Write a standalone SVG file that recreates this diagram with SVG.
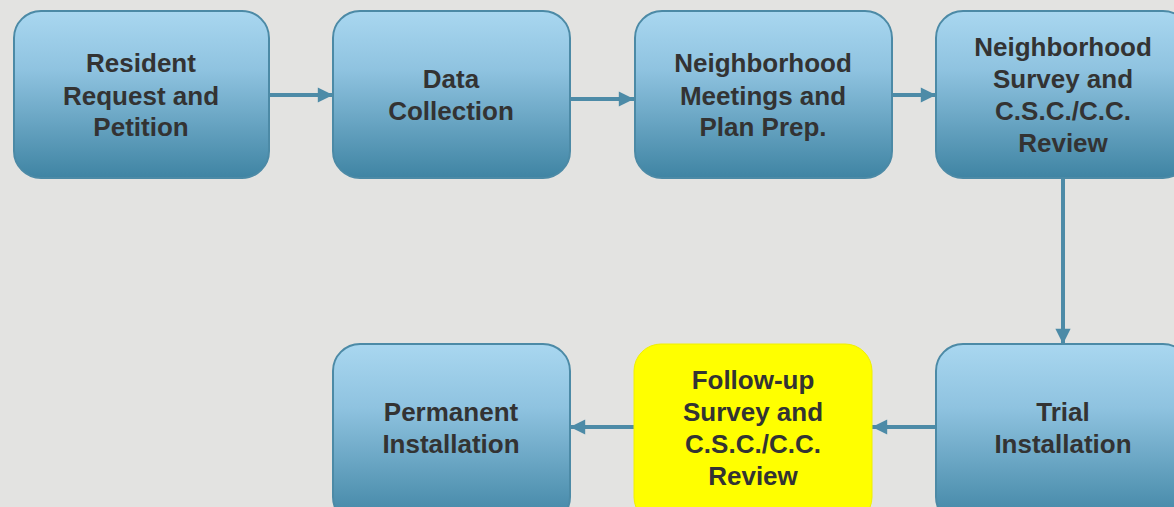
<svg xmlns="http://www.w3.org/2000/svg" width="1174" height="507" viewBox="0 0 1174 507">
<defs>
<linearGradient id="blue" x1="0" y1="0" x2="0" y2="1">
<stop offset="0" stop-color="#a9d7f0"/>
<stop offset="0.35" stop-color="#8fc3e0"/>
<stop offset="1" stop-color="#3f84a3"/>
</linearGradient>
<marker id="ah" viewBox="0 0 10 10" refX="10" refY="5" markerWidth="4" markerHeight="3.8" markerUnits="strokeWidth" orient="auto">
<path d="M0,0 L10,5 L0,10 Z" fill="#4d8ba7"/>
</marker>
<style>
.box{fill:url(#blue);stroke:#4c8aa6;stroke-width:2}
.hl{fill:#ffff00;stroke:#f0f000;stroke-width:1}
.t{font-family:"Liberation Sans",Arial,sans-serif;font-weight:bold;font-size:26px;fill:#333333;text-anchor:middle}
.c{stroke:#4d8ba7;stroke-width:4;fill:none;marker-end:url(#ah)}
</style>
</defs>
<rect width="1174" height="507" fill="#e3e3e1"/>
<g id="connectors">
<line class="c" x1="269" y1="95" x2="333" y2="95"/>
<line class="c" x1="570" y1="99" x2="634" y2="99"/>
<line class="c" x1="892" y1="95" x2="936" y2="95"/>
<line class="c" x1="1063" y1="178" x2="1063" y2="344"/>
<line class="c" x1="936" y1="427" x2="872" y2="427"/>
<line class="c" x1="634" y1="427" x2="570" y2="427"/>
</g>
<g id="n1"><rect class="box" x="14" y="11" width="255" height="167" rx="27"/>
<text class="t"><tspan x="141" y="72">Resident</tspan><tspan x="141" y="105">Request and</tspan><tspan x="141" y="136">Petition</tspan></text></g>
<g id="n2"><rect class="box" x="333" y="11" width="237" height="167" rx="27"/>
<text class="t"><tspan x="451" y="88">Data</tspan><tspan x="451" y="120">Collection</tspan></text></g>
<g id="n3"><rect class="box" x="635" y="11" width="257" height="167" rx="27"/>
<text class="t"><tspan x="763" y="72">Neighborhood</tspan><tspan x="763" y="105">Meetings and</tspan><tspan x="763" y="136">Plan Prep.</tspan></text></g>
<g id="n4"><rect class="box" x="936" y="11" width="254" height="167" rx="27"/>
<text class="t"><tspan x="1063" y="56">Neighborhood</tspan><tspan x="1063" y="88">Survey and</tspan><tspan x="1063" y="120">C.S.C./C.C.</tspan><tspan x="1063" y="152">Review</tspan></text></g>
<g id="n5"><rect class="box" x="333" y="344" width="237" height="180" rx="27"/>
<text class="t"><tspan x="451" y="421">Permanent</tspan><tspan x="451" y="453">Installation</tspan></text></g>
<g id="n6"><rect class="hl" x="634" y="344" width="238" height="180" rx="27"/>
<text class="t"><tspan x="753" y="389">Follow-up</tspan><tspan x="753" y="421">Survey and</tspan><tspan x="753" y="453">C.S.C./C.C.</tspan><tspan x="753" y="485">Review</tspan></text></g>
<g id="n7"><rect class="box" x="936" y="344" width="254" height="180" rx="27"/>
<text class="t"><tspan x="1063" y="421">Trial</tspan><tspan x="1063" y="453">Installation</tspan></text></g>
</svg>
